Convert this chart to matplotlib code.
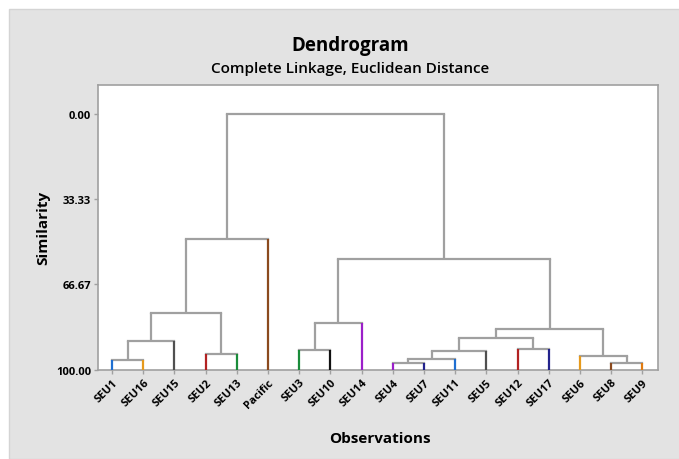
import numpy as np
import matplotlib
matplotlib.use('Agg')
import matplotlib.pyplot as plt
from matplotlib.patches import Rectangle

# ─── Data ────────────────────────────────────────────────────────────────────
leaves = ['SEU1', 'SEU16', 'SEU15', 'SEU2', 'SEU13', 'Pacific', 'SEU3', 'SEU10',
          'SEU14', 'SEU4', 'SEU7', 'SEU11', 'SEU5', 'SEU12', 'SEU17', 'SEU6',
          'SEU8', 'SEU9']
leaf_colors = ['#1f6fd1', '#e69a1c', '#505050', '#b22222', '#1a8c3a', '#8b4a1e',
               '#1a8c3a', '#111111', '#9b1fc9', '#9b1fc9', '#23238c', '#1f6fd1',
               '#505050', '#b22222', '#23238c', '#e69a1c', '#8b4a1e', '#e07a10']

# merge steps: ids 0-17 are leaves, each merge gets the next id (18, 19, ...)
merge_a = [9, 16, 0, 18, 15, 3, 21, 6, 13, 20, 24, 28, 25, 27, 30, 31, 33]
merge_b = [10, 17, 1, 11, 19, 4, 12, 7, 14, 2, 26, 22, 8, 23, 29, 5, 32]
similarity = [97.4, 97.3, 96.1, 95.7, 94.5, 93.75, 92.6, 92.4, 92.0, 88.9,
              87.5, 84.1, 81.8, 77.9, 56.9, 49.1, 0.0]

yticks = [0.00, 33.33, 66.67, 100.00]

GRAY = '#a0a0a0'

# ─── Figure ──────────────────────────────────────────────────────────────────
plt.rcParams['font.family'] = ['Open Sans', 'DejaVu Sans']
fig = plt.figure(figsize=(6.79, 4.60), dpi=100, facecolor='white')
fig.patches.append(Rectangle((9 / 679, 0), 1, 450 / 460, transform=fig.transFigure,
                             facecolor='#e3e3e3', edgecolor='#d4d4d4', lw=1, zorder=-10))

ax = fig.add_axes([98 / 679, 1 - 370.7 / 460, 560 / 679, (370.7 - 86) / 460])
ax.set_facecolor('white')

# position / height of every node
xpos = {i: float(i) for i in range(len(leaves))}
height = {i: 100.0 for i in range(len(leaves))}
for k, (a, b, s) in enumerate(zip(merge_a, merge_b, similarity)):
    node = len(leaves) + k
    xpos[node] = (xpos[a] + xpos[b]) / 2
    height[node] = s
    for child in (a, b):
        c = leaf_colors[child] if child < len(leaves) else GRAY
        ax.plot([xpos[child], xpos[child]], [height[child], s], color=c, lw=1.6,
                solid_capstyle='butt', zorder=3 if child < len(leaves) else 2)
    ax.plot([xpos[a], xpos[b]], [s, s], color=GRAY, lw=1.6, solid_capstyle='projecting', zorder=2)

ax.set_xlim(-0.45, 17.5)
ax.set_ylim(100, -11.2)
ax.set_yticks(yticks)
ax.set_yticklabels([f'{v:.2f}' for v in yticks], fontsize=8, fontweight='bold')
ax.set_xticks(range(len(leaves)))
ax.set_xticklabels(leaves, rotation=45, ha='right', va='top', rotation_mode='anchor',
                   fontsize=8, fontweight='bold')
ax.tick_params(length=3, color=GRAY, width=1, pad=2)
for spine in ax.spines.values():
    spine.set_edgecolor(GRAY)
    spine.set_linewidth(1.2)

ax.set_ylabel('Similarity', fontsize=11, fontweight='bold', labelpad=4)
ax.set_xlabel('Observations', fontsize=11, fontweight='bold')
ax.xaxis.set_label_coords((380 - 98) / 560, -(432 - 370.7) / (370.7 - 86))

fig.text(350 / 679, 1 - 46 / 460, 'Dendrogram', ha='center', va='center',
         fontsize=13.5, fontweight='bold')
fig.text(350 / 679, 1 - 69 / 460, 'Complete Linkage, Euclidean Distance', ha='center',
         va='center', fontsize=11, fontweight='semibold')

fig.savefig('out.png', dpi=100, facecolor='white')
